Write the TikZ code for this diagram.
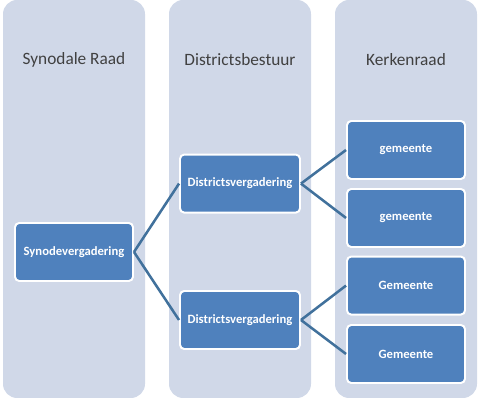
\documentclass[tikz,border=0pt]{standalone}
\usepackage{fontspec}
\setmainfont{Carlito}
\usepackage{xcolor}
\usepackage{tikz}
\usetikzlibrary{positioning}

\definecolor{colbg}{HTML}{D0D8E8}
\definecolor{boxfill}{HTML}{4F81BD}
\definecolor{linkblue}{HTML}{41719C}

\begin{document}
\begin{tikzpicture}[
  lane/.style={rectangle, fill=colbg, rounded corners=10pt,
               minimum width=3.55cm, minimum height=9.95cm, inner sep=0pt},
  ttl/.style={font=\fontsize{12.3}{14}\selectfont, text=black!75},
  unit/.style={rectangle, draw=white, line width=1.4pt, fill=boxfill,
               rounded corners=3pt, text=white, align=center, inner sep=2pt,
               font=\fontsize{9}{11}\selectfont\bfseries,
               minimum width=2.95cm, minimum height=1.45cm},
  conn/.style={draw=linkblue, line width=1.8pt}
]
\useasboundingbox (0,0) rectangle (12,10);

\node[lane] (synL) at (1.85, 5.025)  {};
\node[lane] (disL) at (6.0, 5.025)   {};
\node[lane] (kerL) at (10.15, 5.025) {};

\node[ttl] (synT) at (1.85, 8.5)  {Synodale Raad};
\node[ttl] (disT) at (6.0, 8.5)   {Districtsbestuur};
\node[ttl] (kerT) at (10.15, 8.5) {Kerkenraad};

\node[unit] (syn) at (1.85, 3.7) {Synodevergadering};

\node[unit, minimum width=3.0cm] (dis1) at (6.0, 5.41) {Districtsvergadering};
\node[unit, minimum width=3.0cm] (dis2) at (6.0, 2.0)  {Districtsvergadering};

\node[unit] (gem1) at (10.15, 6.25) {gemeente};
\node[unit] (gem2) at (10.15, 4.55) {gemeente};
\node[unit] (gem3) at (10.15, 2.86) {Gemeente};
\node[unit] (gem4) at (10.15, 1.15) {Gemeente};

\draw[conn] (syn.east) -- (dis1.west);
\draw[conn] (syn.east) -- (dis2.west);
\draw[conn] (dis1.east) -- (gem1.west);
\draw[conn] (dis1.east) -- (gem2.west);
\draw[conn] (dis2.east) -- (gem3.west);
\draw[conn] (dis2.east) -- (gem4.west);
\end{tikzpicture}
\end{document}
